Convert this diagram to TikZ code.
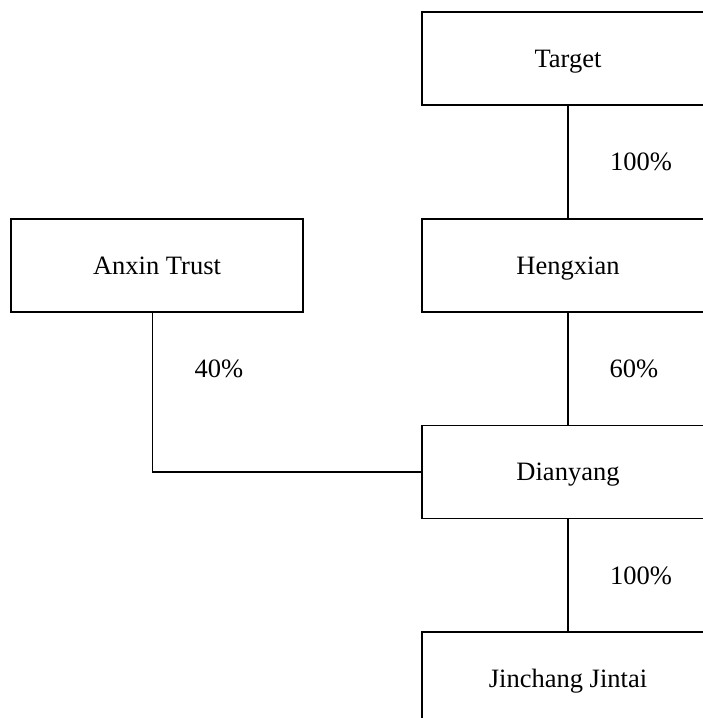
\documentclass[tikz,border=0pt]{standalone}
\usepackage{fontspec}
\setmainfont{Liberation Serif}
\begin{document}
\begin{tikzpicture}[x=1pt,y=-1pt,
  box/.style={draw, line width=1.2pt, minimum width=292pt, minimum height=93pt, inner sep=0pt, text height=17pt, text depth=0pt, font=\fontsize{26.5}{30}\selectfont},
  pct/.style={font=\fontsize{26.5}{30}\selectfont, inner sep=0pt, text height=17pt, text depth=0pt},
  link/.style={line width=1.2pt}]
\useasboundingbox (0,0) rectangle (703,718);
\clip (0,0) rectangle (703,718);
\node[box] (target) at (568,58.5) {Target};
\node[box] (heng) at (568,265.5) {Hengxian};
\node[box] (anxin) at (157,265.5) {Anxin Trust};
\node[box] (dian) at (568,472) {Dianyang};
\node[box] (jin) at (568,678.5) {Jinchang Jintai};
\draw[link] (target.south) -- (heng.north);
\draw[link] (heng.south) -- (dian.north);
\draw[link] (dian.south) -- (jin.north);
\draw[link] ([xshift=-4.5pt]anxin.south) |- (dian.west);
\node[pct] (p1) at (641,162) {100\%};
\node[pct] (p2) at (219,369) {40\%};
\node[pct] (p3) at (634,369) {60\%};
\node[pct] (p4) at (641,576) {100\%};
\end{tikzpicture}
\end{document}
